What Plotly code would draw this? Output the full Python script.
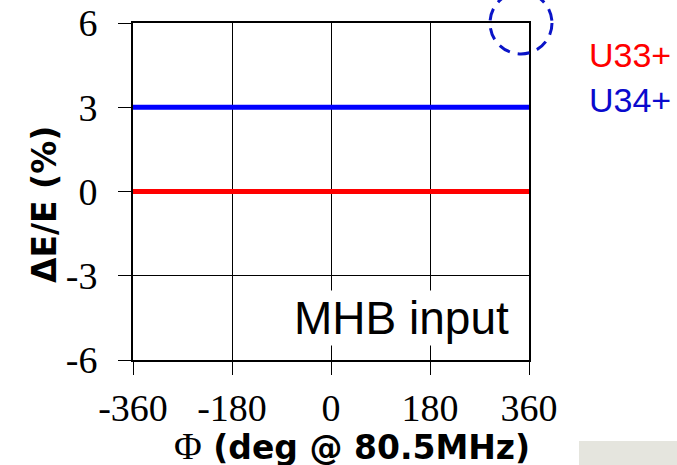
import plotly.graph_objects as go

# ---- data ----
phase_deg = [-360, -180, 0, 180, 360]
u33_dE = [0, 0, 0, 0, 0]
u34_dE = [3, 3, 3, 3, 3]
series_names = ["U33+", "U34+"]
x_tick_vals = [-360, -180, 0, 180, 360]
x_tick_text = ["-360", "-180", "0", "180", "360"]
y_tick_vals = [-6, -3, 0, 3, 6]
y_tick_text = ["-6", "-3", "0", "3", "6"]

RED = "#ff0000"
BLUE = "#0000ff"
BLUE_TXT = "#0a0acd"

fig = go.Figure()
fig.add_trace(go.Scatter(x=phase_deg, y=u33_dE, mode="lines", name=series_names[0],
                         line=dict(color=RED, width=5), showlegend=False))
fig.add_trace(go.Scatter(x=phase_deg, y=u34_dE, mode="lines", name=series_names[1],
                         line=dict(color=BLUE, width=5), showlegend=False))

tickfont = dict(family="Liberation Serif", size=38, color="black")
fig.update_xaxes(range=[-360, 360], tickvals=x_tick_vals, ticktext=x_tick_text,
                 showline=True, linecolor="black", linewidth=2, mirror=True,
                 showgrid=True, gridcolor="black", gridwidth=1,
                 ticks="outside", ticklen=13, tickwidth=1, tickcolor="black",
                 tickfont=tickfont, ticklabelstandoff=0, zeroline=False,
                 automargin=False)
fig.update_yaxes(range=[-6, 6], tickvals=y_tick_vals, ticktext=y_tick_text,
                 showline=True, linecolor="black", linewidth=2, mirror=True,
                 showgrid=True, gridcolor="black", gridwidth=1,
                 ticks="outside", ticklen=13, tickwidth=1, tickcolor="black",
                 tickfont=tickfont, ticklabelstandoff=13, zeroline=False,
                 automargin=False)

titlefont = dict(family="DejaVu Sans", size=33, color="black")
fig.add_annotation(xref="paper", yref="paper", x=0.553, y=-0.254,
                   text="<span style=\"font-family:'Liberation Serif';font-size:38px\">Φ</span><b> (deg @ 80.5MHz)</b>",
                   showarrow=False, font=titlefont, xanchor="center", yanchor="middle")
fig.add_annotation(xref="paper", yref="paper", x=-0.222, y=0.46,
                   text="<b>ΔE/E (%)</b>", textangle=-90,
                   showarrow=False, font=titlefont,
                   xanchor="center", yanchor="middle")

fig.add_annotation(xref="x", yref="y", x=129, y=-4.49, text="MHB input",
                   showarrow=False, bgcolor="white",
                   font=dict(family="Liberation Sans", size=46, color="black"),
                   xanchor="center", yanchor="middle")

fig.add_annotation(xref="paper", yref="paper", x=1.146, y=(360 - 55) / 337,
                   text=series_names[0], showarrow=False, xanchor="left", yanchor="middle",
                   font=dict(family="Liberation Sans", size=34, color=RED))
fig.add_annotation(xref="paper", yref="paper", x=1.146, y=(360 - 100) / 337,
                   text=series_names[1], showarrow=False, xanchor="left", yanchor="middle",
                   font=dict(family="Liberation Sans", size=34, color=BLUE_TXT))

# dashed highlight circle at top-right corner
fig.add_shape(type="circle", xref="paper", yref="paper",
              x0=(490 - 133) / 396, x1=(552 - 133) / 396,
              y0=(360 - 54) / 337, y1=(360 + 8) / 337,
              line=dict(color="#0a14c8", width=3, dash="12px,8px"))
# light grey patch bottom right
fig.add_shape(type="rect", xref="paper", yref="paper",
              x0=(579 - 133) / 396, x1=(680 - 133) / 396,
              y0=(360 - 468) / 337, y1=(360 - 441) / 337,
              line=dict(width=0), fillcolor="#e5e5de", layer="below")

fig.update_layout(width=677, height=465, margin=dict(l=133, r=148, t=23, b=105),
                  plot_bgcolor="white", paper_bgcolor="white", showlegend=False)

fig.write_html("out.html", config={"displayModeBar": False},
               post_script="document.body.style.margin='0';")
